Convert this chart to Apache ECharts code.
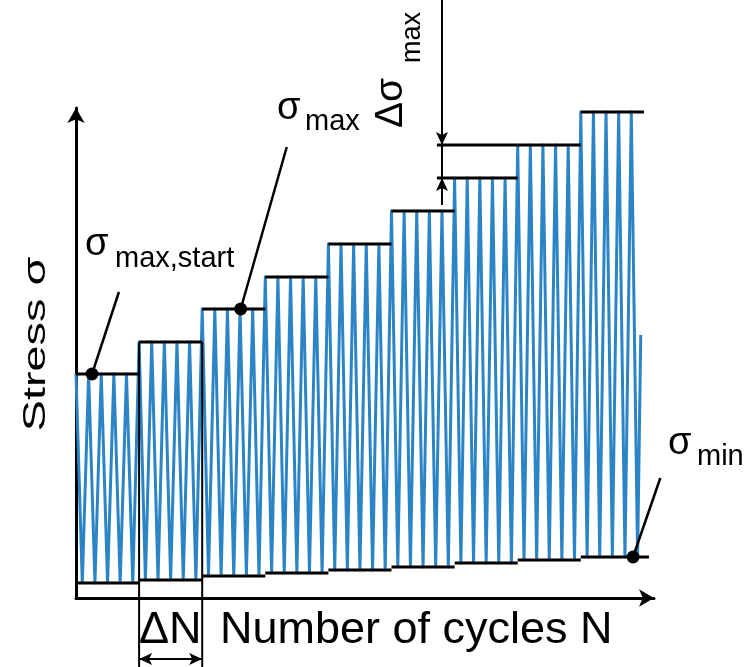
<!DOCTYPE html>
<html>
<head>
<meta charset="utf-8">
<script src="https://cdn.jsdelivr.net/npm/echarts@6/dist/echarts.min.js"></script>
<style>
  html, body { margin: 0; padding: 0; background: #fff; }
  #chart { width: 749px; height: 667px; }
</style>
</head>
<body>
<div id="chart"></div>
<script>
// Step-loading fatigue test: the upper stress is raised by Δσmax every ΔN cycles.
// Stress values are in arbitrary units, N in load cycles.
const cyclesPerStep = 5;                                      // ΔN
const stepMax = [224, 256, 289, 321, 354, 387, 420, 453, 486]; // σmax of each block
const stepMin = [15, 18, 22, 25, 28, 31, 35, 38, 41];          // σmin of each block
const waveEnd = [44.75, 263];                                 // last ramp, cut off at failure

// Annotation anchors (data coordinates)
const dotMaxStart = [1.27, 224];
const dotMax = [13.05, 289];
const dotMin = [44.14, 41];
const leaderEnds = [[3.4, 306], [16.7, 451], [46.3, 120]];
const deltaSigmaN = 29.0;

const BLUE = '#2b84c6';
const FONT = '"Liberation Sans", Arial, sans-serif';

// zig-zag load signal built from the block table: peak at every cycle start, valley half a cycle later
const wave = [];
stepMax.forEach((hi, i) => {
  const start = i * cyclesPerStep;
  for (let k = 0; k < cyclesPerStep; k++) {
    wave.push([start + k, hi]);
    wave.push([start + k + 0.5, stepMin[i]]);
  }
});
wave.push(waveEnd);

const nSteps = stepMax.length;
const bound = i => i * cyclesPerStep;

// thick black level lines
const levelSegs = [];
stepMax.forEach((hi, i) => levelSegs.push([bound(i), hi, bound(i + 1), hi]));
stepMin.forEach((lo, i) => levelSegs.push([bound(i), lo, i === nSteps - 1 ? bound(i + 1) + 0.4 : bound(i + 1), lo]));
// extension of two neighbouring levels to the Δσmax dimension
levelSegs.push([deltaSigmaN - 0.4, stepMax[6], bound(6), stepMax[6]]);
levelSegs.push([deltaSigmaN - 0.4, stepMax[7], bound(7), stepMax[7]]);

// thin annotation lines
const thinSegs = [
  [bound(1), stepMax[1], bound(1), -69],          // ΔN extension lines
  [bound(2), stepMax[1], bound(2), -69],
  [bound(1), -61, bound(2), -61],                 // ΔN dimension line
  [deltaSigmaN, 598, deltaSigmaN, 393]            // Δσmax dimension line
];
const leaderSegs = [
  [dotMaxStart[0], dotMaxStart[1], leaderEnds[0][0], leaderEnds[0][1]],
  [dotMax[0], dotMax[1], leaderEnds[1][0], leaderEnds[1][1]],
  [dotMin[0], dotMin[1], leaderEnds[2][0], leaderEnds[2][1]]
];
// arrow heads: tip position and pointing direction (deg, screen: 0 = right, 90 = down)
const arrowHeads = [
  [bound(1), -61, 180], [bound(2), -61, 0],
  [deltaSigmaN, stepMax[7], 90], [deltaSigmaN, stepMax[6], -90]
];

function segmentSeries(data, width, z) {
  return {
    type: 'custom', data, z, silent: true, clip: false, animation: false,
    renderItem: (params, api) => {
      const p1 = api.coord([api.value(0), api.value(1)]);
      const p2 = api.coord([api.value(2), api.value(3)]);
      return {
        type: 'line',
        shape: { x1: p1[0], y1: p1[1], x2: p2[0], y2: p2[1] },
        style: { stroke: '#000', lineWidth: width, lineCap: 'butt' }
      };
    }
  };
}

const chart = echarts.init(document.getElementById('chart'), null, { renderer: 'canvas' });

chart.setOption({
  animation: false,
  backgroundColor: '#fff',
  grid: { left: 76, right: 95, top: 108, bottom: 69 },
  xAxis: {
    type: 'value', min: 0, max: 45.8,
    axisLine: { show: true, onZero: false, symbol: ['none', 'arrow'], symbolSize: [13, 15],
      lineStyle: { color: '#000', width: 3 } },
    axisTick: { show: false }, axisLabel: { show: false }, splitLine: { show: false }
  },
  yAxis: {
    type: 'value', min: 0, max: 490,
    axisLine: { show: true, onZero: false, symbol: ['none', 'arrow'], symbolSize: [13, 15],
      lineStyle: { color: '#000', width: 3 } },
    axisTick: { show: false }, axisLabel: { show: false }, splitLine: { show: false }
  },
  series: [
    {
      type: 'line', data: wave, showSymbol: false, z: 2, silent: true,
      lineStyle: { color: BLUE, width: 3, join: 'round' }
    },
    segmentSeries(levelSegs, 3, 4),
    segmentSeries(thinSegs, 2, 4),
    segmentSeries(leaderSegs, 2.5, 4),
    {
      type: 'custom', data: arrowHeads, z: 5, silent: true, clip: false,
      renderItem: (params, api) => {
        const p = api.coord([api.value(0), api.value(1)]);
        const a = api.value(2) * Math.PI / 180;
        const L = 13, W = 6;
        const dx = Math.cos(a), dy = Math.sin(a);
        const bx = p[0] - dx * L, by = p[1] - dy * L;
        return {
          type: 'polygon',
          shape: { points: [[p[0], p[1]], [bx - dy * W, by + dx * W], [bx + dx * 3, by + dy * 3], [bx + dy * W, by - dx * W]] },
          style: { fill: '#000' }
        };
      }
    },
    {
      type: 'scatter', data: [dotMaxStart, dotMax, dotMin], symbolSize: 13, z: 6, silent: true,
      clip: false, itemStyle: { color: '#000', opacity: 1 }
    }
  ],
  graphic: [
    { type: 'text', x: 36, y: 344, rotation: Math.PI / 2, scaleX: 1.51,
      style: { text: 'Stress σ', font: '31px ' + FONT, fill: '#000', align: 'center', verticalAlign: 'middle' } },
    { type: 'text', x: 220, y: 631,
      style: { text: 'Number of cycles N', font: '45px ' + FONT, fill: '#000', align: 'left', verticalAlign: 'middle' } },
    { type: 'text', x: 139, y: 631,
      style: { text: 'ΔN', font: '45px ' + FONT, fill: '#000', align: 'left', verticalAlign: 'middle' } },
    { type: 'text', x: 85, y: 245,
      style: { text: 'σ', font: '38px ' + FONT, fill: '#000', align: 'left', verticalAlign: 'middle' } },
    { type: 'text', x: 115, y: 259,
      style: { text: 'max,start', font: '29px ' + FONT, fill: '#000', align: 'left', verticalAlign: 'middle' } },
    { type: 'text', x: 277, y: 109,
      style: { text: 'σ', font: '38px ' + FONT, fill: '#000', align: 'left', verticalAlign: 'middle' } },
    { type: 'text', x: 305, y: 122,
      style: { text: 'max', font: '29px ' + FONT, fill: '#000', align: 'left', verticalAlign: 'middle' } },
    { type: 'text', x: 668, y: 444,
      style: { text: 'σ', font: '38px ' + FONT, fill: '#000', align: 'left', verticalAlign: 'middle' } },
    { type: 'text', x: 697, y: 457,
      style: { text: 'min', font: '29px ' + FONT, fill: '#000', align: 'left', verticalAlign: 'middle' } },
    { type: 'text', x: 391, y: 128, rotation: Math.PI / 2,
      style: { text: 'Δσ', font: '39px ' + FONT, fill: '#000', align: 'left', verticalAlign: 'middle' } },
    { type: 'text', x: 413, y: 63, rotation: Math.PI / 2,
      style: { text: 'max', font: '27px ' + FONT, fill: '#000', align: 'left', verticalAlign: 'middle' } }
  ]
});
</script>
</body>
</html>
